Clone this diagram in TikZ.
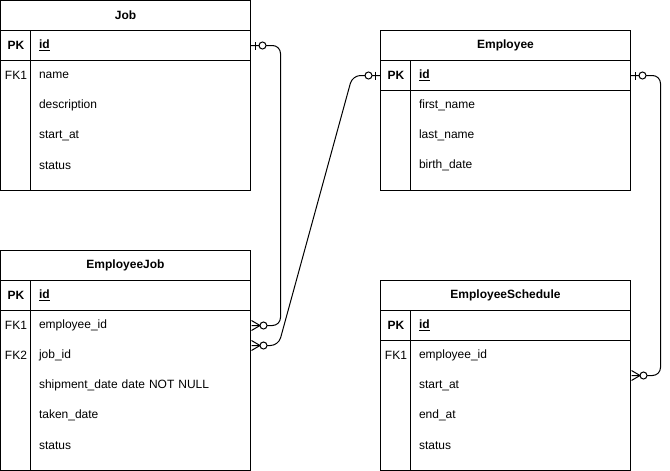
\documentclass[tikz,border=0pt]{standalone}
\usepackage{fontspec}
\setmainfont{Liberation Sans}
\usetikzlibrary{positioning}

\tikzset{
  boldtext/.style={font=\fontsize{12}{14}\selectfont\bfseries},
  tblhead/.style={draw, minimum width=250pt, minimum height=30pt, inner sep=0pt, outer sep=0pt, boldtext, anchor=north west},
  tblrow/.style={draw, minimum width=250pt, minimum height=30pt, inner sep=0pt, outer sep=0pt},
  tblbody/.style={draw, minimum width=250pt, inner sep=0pt, outer sep=0pt},
  keycol/.style={minimum width=30pt, minimum height=30pt, inner sep=0pt, anchor=west},
  field/.style={text width=204pt, inner xsep=8pt, inner ysep=0pt, minimum height=30pt, align=left, anchor=west},
  pics/zeroone/.style={code={
    \draw (5pt,-4pt) -- (5pt,4pt);
    \draw[fill=white] (12pt,0pt) circle (3.5pt);
  }},
  pics/zeromany/.style={code={
    \draw (0pt,-5pt) -- (8.5pt,0pt) -- (0pt,5pt);
    \draw[fill=white] (12pt,0pt) circle (3.5pt);
  }}
}

\begin{document}
\begin{tikzpicture}[x=1pt,y=-1pt,line width=1pt,font=\fontsize{12}{14}\selectfont]
  \useasboundingbox (-0.5,-0.5) rectangle (669.5,470.5);

  % Job
  \node[tblhead] (job) at (0,0) {Job};
  \node[tblrow, below=0pt of job] (jobpk) {};
  \node[tblbody, minimum height=130pt, below=0pt of jobpk] (jobbody) {};
  \draw ([xshift=30pt]jobpk.north west) -- ([xshift=30pt]jobbody.south west);
  \node[keycol, boldtext] at (0,45) {PK};
  \node[field, boldtext] (jobid) at (30,45) {\underline{id}};
  \node[keycol] at (0,75) {FK1};
  \node[field] (jobname) at (30,75) {name};
  \node[field] (jobdesc) at (30,105) {description};
  \node[field] (jobstart) at (30,135) {start\_at};
  \node[field] (jobstatus) at (30,165) {status};

  % Employee
  \node[tblhead] (emp) at (380,30) {Employee};
  \node[tblrow, below=0pt of emp] (emppk) {};
  \node[tblbody, minimum height=100pt, below=0pt of emppk] (empbody) {};
  \draw ([xshift=30pt]emppk.north west) -- ([xshift=30pt]empbody.south west);
  \node[keycol, boldtext] at (380,75) {PK};
  \node[field, boldtext] (empid) at (410,75) {\underline{id}};
  \node[field] (empfirst) at (410,105) {first\_name};
  \node[field] (emplast) at (410,135) {last\_name};
  \node[field] (empbirth) at (410,165) {birth\_date};

  % EmployeeJob
  \node[tblhead] (ej) at (0,250) {EmployeeJob};
  \node[tblrow, below=0pt of ej] (ejpk) {};
  \node[tblbody, minimum height=160pt, below=0pt of ejpk] (ejbody) {};
  \draw ([xshift=30pt]ejpk.north west) -- ([xshift=30pt]ejbody.south west);
  \node[keycol, boldtext] at (0,295) {PK};
  \node[field, boldtext] (ejid) at (30,295) {\underline{id}};
  \node[keycol] at (0,325) {FK1};
  \node[field] (ejempid) at (30,325) {employee\_id};
  \node[keycol] at (0,355) {FK2};
  \node[field] (ejjobid) at (30,355) {job\_id};
  \node[field] (ejship) at (30,385) {shipment\_date date NOT NULL};
  \node[field] (ejtaken) at (30,415) {taken\_date};
  \node[field] (ejstatus) at (30,445) {status};

  % EmployeeSchedule
  \node[tblhead] (es) at (380,280) {EmployeeSchedule};
  \node[tblrow, below=0pt of es] (espk) {};
  \node[tblbody, minimum height=130pt, below=0pt of espk] (esbody) {};
  \draw ([xshift=30pt]espk.north west) -- ([xshift=30pt]esbody.south west);
  \node[keycol, boldtext] at (380,325) {PK};
  \node[field, boldtext] (esid) at (410,325) {\underline{id}};
  \node[keycol] at (380,355) {FK1};
  \node[field] (esempid) at (410,355) {employee\_id};
  \node[field] (esstart) at (410,385) {start\_at};
  \node[field] (esend) at (410,415) {end\_at};
  \node[field] (esstatus) at (410,445) {status};

  % relations
  \draw[rounded corners=8pt] (jobpk.east) -- (280,45) -- (280,325) -- (ejempid.east);
  \draw[rounded corners=8pt] (emppk.west) -- (352,75) -- (278,345) -- ([yshift=10pt]ejjobid.east);
  \draw[rounded corners=8pt] (emppk.east) -- (660,75) -- (660,375) -- ([yshift=-20pt]esempid.east);

  \pic at (jobpk.east) {zeroone};
  \pic[rotate=180] at (emppk.west) {zeroone};
  \pic at (emppk.east) {zeroone};
  \pic at (ejempid.east) {zeromany};
  \pic at ([yshift=10pt]ejjobid.east) {zeromany};
  \pic at ([yshift=-20pt]esempid.east) {zeromany};
\end{tikzpicture}
\end{document}
